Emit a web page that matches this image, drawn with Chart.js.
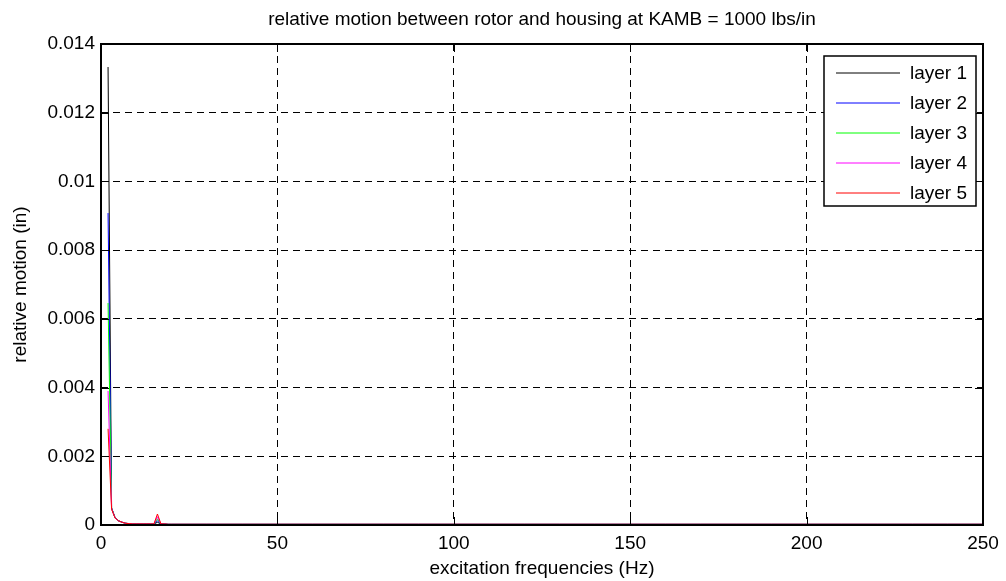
<!DOCTYPE html>
<html>
<head>
<meta charset="utf-8">
<script src="https://cdn.jsdelivr.net/npm/chart.js@4.4.0/dist/chart.umd.min.js"></script>
<style>
  html, body { margin: 0; padding: 0; background: #ffffff; }
  #wrap { width: 1006px; height: 581px; }
</style>
</head>
<body>
<div id="wrap"><canvas id="c" width="1006" height="581"></canvas></div>
<script>
// Text
const titleText = 'relative motion between rotor and housing at KAMB = 1000 lbs/in';
const xTitle = 'excitation frequencies (Hz)';
const yTitle = 'relative motion (in)';
const seriesNames = ['layer 1', 'layer 2', 'layer 3', 'layer 4', 'layer 5'];
const seriesColors = ['#000000', '#0000ff', '#00ff00', '#ff00ff', '#ff0000'];

// Excitation frequency (Hz)
const freq = [2, 3, 4, 5, 6, 7, 8, 9, 10, 11, 12, 13, 14, 15, 16, 17, 18, 19, 20,
  30, 40, 50, 60, 70, 80, 90, 100, 110, 120, 130, 140, 150, 160, 170, 180, 190,
  200, 210, 220, 230, 240, 250];

// Relative motion (in) per layer
const layer1 = [0.01333, 0.00050, 0.00021, 0.00012, 0.00008, 0.00005, 0.00004, 0.00003, 0.00003, 0.00003,
  0.00003, 0.00003, 0.00003, 0.00003, 0.00008, 0.00003, 0.00003, 0.00002, 0.00002,
  0.00002, 0.00002, 0.00002, 0.00002, 0.00002, 0.00002, 0.00002, 0.00002, 0.00002, 0.00002, 0.00002,
  0.00002, 0.00002, 0.00002, 0.00002, 0.00002, 0.00002, 0.00002, 0.00002, 0.00002, 0.00002, 0.00002, 0.00002];
const layer2 = [0.00908, 0.00049, 0.00021, 0.00012, 0.00008, 0.00005, 0.00004, 0.00003, 0.00003, 0.00003,
  0.00003, 0.00003, 0.00003, 0.00003, 0.00012, 0.00003, 0.00003, 0.00002, 0.00002,
  0.00002, 0.00002, 0.00002, 0.00002, 0.00002, 0.00002, 0.00002, 0.00002, 0.00002, 0.00002, 0.00002,
  0.00002, 0.00002, 0.00002, 0.00002, 0.00002, 0.00002, 0.00002, 0.00002, 0.00002, 0.00002, 0.00002, 0.00002];
const layer3 = [0.00646, 0.00048, 0.00020, 0.00012, 0.00008, 0.00005, 0.00004, 0.00003, 0.00003, 0.00003,
  0.00003, 0.00003, 0.00003, 0.00003, 0.00018, 0.00003, 0.00003, 0.00002, 0.00002,
  0.00002, 0.00002, 0.00002, 0.00002, 0.00002, 0.00002, 0.00002, 0.00002, 0.00002, 0.00002, 0.00002,
  0.00002, 0.00002, 0.00002, 0.00002, 0.00002, 0.00002, 0.00002, 0.00002, 0.00002, 0.00002, 0.00002, 0.00002];
const layer4 = [0.00390, 0.00047, 0.00020, 0.00012, 0.00008, 0.00005, 0.00004, 0.00003, 0.00003, 0.00003,
  0.00003, 0.00003, 0.00003, 0.00003, 0.00024, 0.00003, 0.00003, 0.00002, 0.00002,
  0.00002, 0.00002, 0.00002, 0.00002, 0.00002, 0.00002, 0.00002, 0.00002, 0.00002, 0.00002, 0.00002,
  0.00002, 0.00002, 0.00002, 0.00002, 0.00002, 0.00002, 0.00002, 0.00002, 0.00002, 0.00002, 0.00002, 0.00002];
const layer5 = [0.00280, 0.00046, 0.00020, 0.00012, 0.00008, 0.00005, 0.00004, 0.00003, 0.00003, 0.00003,
  0.00003, 0.00003, 0.00003, 0.00003, 0.00032, 0.00003, 0.00003, 0.00002, 0.00002,
  0.00002, 0.00002, 0.00002, 0.00002, 0.00002, 0.00002, 0.00002, 0.00002, 0.00002, 0.00002, 0.00002,
  0.00002, 0.00002, 0.00002, 0.00002, 0.00002, 0.00002, 0.00002, 0.00002, 0.00002, 0.00002, 0.00002, 0.00002];

// Axis ticks
const xTicks = [0, 50, 100, 150, 200, 250];
const yTicks = [0, 0.002, 0.004, 0.006, 0.008, 0.01, 0.012, 0.014];

const FONT = 'Liberation Sans, Arial, Helvetica, sans-serif';
const FSIZE = 19;

const layers = [layer1, layer2, layer3, layer4, layer5];
const datasets = layers.map((vals, i) => ({
  label: seriesNames[i],
  data: freq.map((f, k) => ({ x: f, y: vals[k] })),
  borderColor: seriesColors[i],
  backgroundColor: seriesColors[i],
  borderWidth: 1,
  pointRadius: 0,
  tension: 0,
  fill: false,
  order: layers.length - i   // later layers are painted over earlier ones
}));

// Box frame, inward ticks, title and boxed legend
const framePlugin = {
  id: 'frame',
  afterDatasetsDraw(chart) {
    const { ctx, chartArea: a, scales } = chart;
    const x = scales.x, y = scales.y;
    ctx.save();
    ctx.strokeStyle = '#000000';

    // inward tick marks on all four sides
    ctx.lineWidth = 1;
    const tl = 8;
    ctx.beginPath();
    xTicks.forEach(v => {
      const px = Math.round(x.getPixelForValue(v)) + 0.5;
      ctx.moveTo(px, a.bottom); ctx.lineTo(px, a.bottom - tl);
      ctx.moveTo(px, a.top); ctx.lineTo(px, a.top + tl);
    });
    yTicks.forEach(v => {
      const py = Math.round(y.getPixelForValue(v)) + 0.5;
      ctx.moveTo(a.left, py); ctx.lineTo(a.left + tl, py);
      ctx.moveTo(a.right, py); ctx.lineTo(a.right - tl, py);
    });
    ctx.stroke();

    // axes box
    ctx.lineWidth = 2;
    ctx.strokeRect(Math.round(a.left), Math.round(a.top),
      Math.round(a.right - a.left), Math.round(a.bottom - a.top));

    // title centred over the plot area
    ctx.fillStyle = '#000000';
    ctx.font = FSIZE + 'px ' + FONT;
    ctx.textAlign = 'center';
    ctx.textBaseline = 'middle';
    ctx.fillText(titleText, (a.left + a.right) / 2, a.top - 24);

    // legend box in the upper right corner
    ctx.textAlign = 'left';
    const textW = Math.max(...chart.data.datasets.map(d => ctx.measureText(d.label).width));
    const padL = 12, lineLen = 64, gap = 10, padR = 9, rowH = 30, padT = 17;
    const n = chart.data.datasets.length;
    const bw = padL + lineLen + gap + textW + padR;
    const bh = padT * 2 + rowH * (n - 1) - 4;
    const bx = Math.round(a.right - 7 - bw);
    const by = Math.round(a.top + 12);
    ctx.fillStyle = '#ffffff';
    ctx.fillRect(bx, by, bw, bh);
    ctx.lineWidth = 1.5;
    ctx.strokeStyle = '#000000';
    ctx.strokeRect(bx, by, Math.round(bw), bh);
    chart.data.datasets.forEach((d, i) => {
      const ry = by + padT + i * rowH;
      ctx.strokeStyle = d.borderColor;
      ctx.lineWidth = 1;
      ctx.beginPath();
      ctx.moveTo(bx + padL, ry);
      ctx.lineTo(bx + padL + lineLen, ry);
      ctx.stroke();
      ctx.fillStyle = '#000000';
      ctx.fillText(d.label, bx + padL + lineLen + gap, ry + 1);
    });
    ctx.restore();
  }
};

new Chart(document.getElementById('c'), {
  type: 'line',
  data: { datasets },
  options: {
    responsive: false,
    animation: false,
    events: [],
    layout: { padding: { top: 44, right: 23, left: 0, bottom: 0 } },
    plugins: {
      legend: { display: false },
      title: { display: false },
      tooltip: { enabled: false }
    },
    scales: {
      x: {
        type: 'linear',
        min: 0,
        max: 250,
        afterBuildTicks: s => { s.ticks = xTicks.map(v => ({ value: v })); },
        afterFit: s => { s.height = 56; },
        grid: { color: '#000000', lineWidth: 1, drawTicks: false },
        border: { display: false, dash: [7, 5] },
        ticks: {
          color: '#000000',
          padding: 7,
          maxRotation: 0,
          font: { family: FONT, size: FSIZE },
          callback: v => String(v)
        },
        title: {
          display: true,
          text: xTitle,
          color: '#000000',
          padding: { top: 0, bottom: 1 },
          font: { family: FONT, size: FSIZE }
        }
      },
      y: {
        type: 'linear',
        min: 0,
        max: 0.014,
        afterBuildTicks: s => { s.ticks = yTicks.map(v => ({ value: v })); },
        afterFit: s => { s.width = 101; },
        grid: { color: '#000000', lineWidth: 1, drawTicks: false },
        border: { display: false, dash: [7, 5] },
        ticks: {
          color: '#000000',
          padding: 6,
          font: { family: FONT, size: FSIZE },
          callback: v => String(v)
        },
        title: {
          display: true,
          text: yTitle,
          color: '#000000',
          padding: { top: 9, bottom: 0 },
          font: { family: FONT, size: FSIZE }
        }
      }
    }
  },
  plugins: [framePlugin]
});
</script>
</body>
</html>
